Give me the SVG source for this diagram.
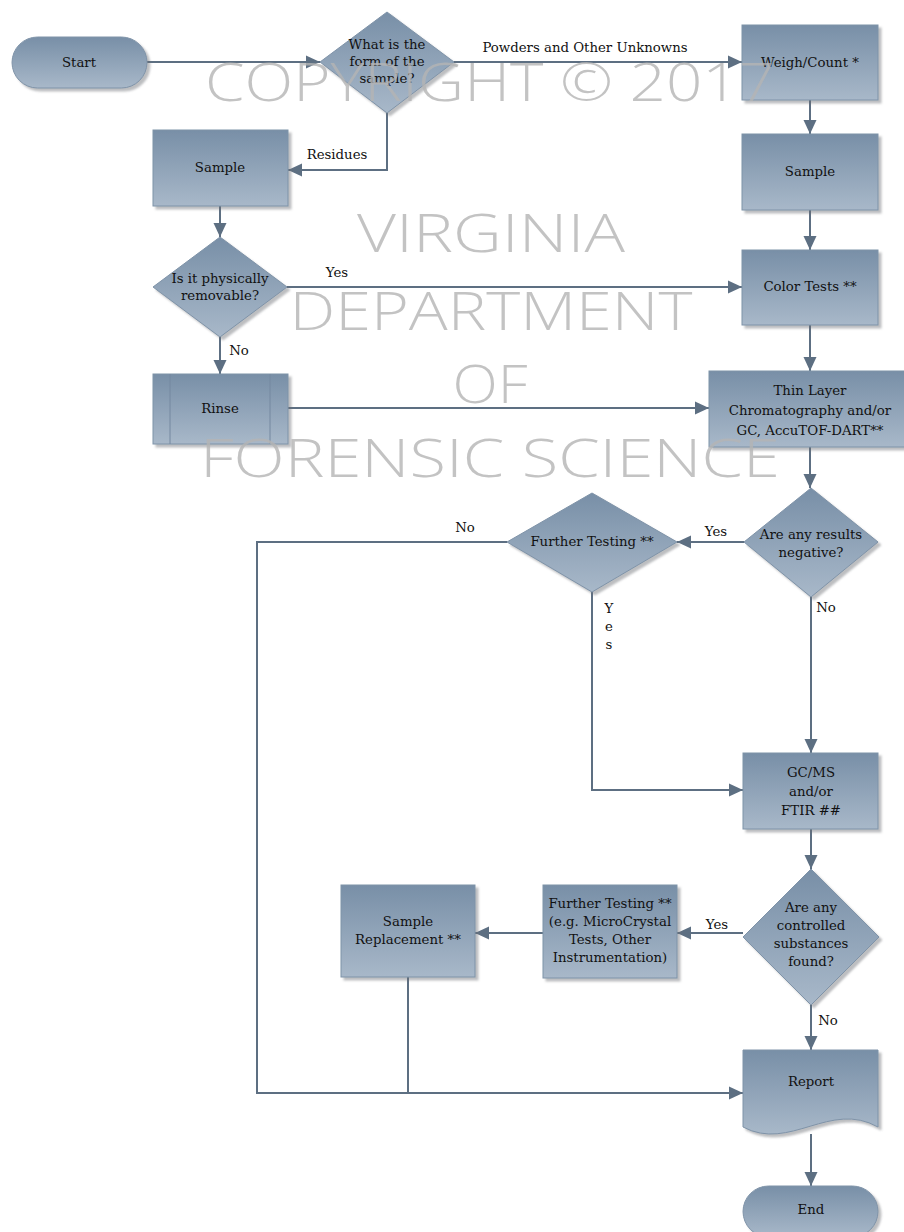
<svg xmlns="http://www.w3.org/2000/svg" width="904" height="1232" viewBox="0 0 904 1232">
<defs>
<linearGradient id="g" x1="0" y1="0" x2="0" y2="1">
<stop offset="0" stop-color="#788fa7"/>
<stop offset="1" stop-color="#a8b8c9"/>
</linearGradient>
<filter id="sh" x="-10%" y="-10%" width="130%" height="130%">
<feDropShadow dx="3" dy="3" stdDeviation="1.2" flood-color="#6a6e74" flood-opacity="0.45"/>
</filter>
<marker id="ah" markerUnits="userSpaceOnUse" markerWidth="15" markerHeight="15" viewBox="0 0 15 15" refX="14" refY="7.5" orient="auto">
<path d="M0,1 L14,7.5 L0,14 Z" fill="#5d6f82"/>
</marker>
<style>
.n{fill:url(#g);stroke:#7f93a8;stroke-width:1;filter:url(#sh)}
.c{fill:none;stroke:#5d6f82;stroke-width:2}
.a{marker-end:url(#ah)}
.t{font-family:"DejaVu Serif","Liberation Serif",serif;font-size:13.3px;fill:#111;text-anchor:middle}
.l{font-family:"DejaVu Serif","Liberation Serif",serif;font-size:13.3px;fill:#111;text-anchor:middle}
.w{font-family:"Open Sans","Liberation Sans",sans-serif;font-weight:300;font-size:54px;fill:#b4b4b4;fill-opacity:0.8;text-anchor:middle}
</style>
</defs>
<g id="connectors">
<path class="c a" d="M147,62 H320"/>
<path class="c a" d="M454,62 H742"/>
<text class="l" x="585" y="52">Powders and Other Unknowns</text>
<path class="c a" d="M387,113 V170 H288"/>
<text class="l" x="337" y="159">Residues</text>
<path class="c a" d="M810,100 V134"/>
<path class="c a" d="M220,206 V237"/>
<path class="c a" d="M287,287 H742"/>
<text class="l" x="337" y="277">Yes</text>
<path class="c a" d="M220,337 V374"/>
<text class="l" x="239" y="355">No</text>
<path class="c a" d="M810,210 V250"/>
<path class="c a" d="M810,325 V371"/>
<path class="c a" d="M288,408 H709"/>
<path class="c a" d="M810,447 V488"/>
<path class="c a" d="M744,542 H677"/>
<text class="l" x="716" y="536">Yes</text>
<path class="c a" d="M507,542 H257 V1093 H743"/>
<text class="l" x="465" y="532">No</text>
<path class="c a" d="M592,592 V790 H743"/>
<text class="l" x="609" y="613">Y</text>
<text class="l" x="609" y="631">e</text>
<text class="l" x="609" y="649">s</text>
<path class="c a" d="M811,597 V753"/>
<text class="l" x="826" y="612">No</text>
<path class="c a" d="M811,829 V869"/>
<path class="c a" d="M743,933 H677"/>
<text class="l" x="717" y="929">Yes</text>
<path class="c a" d="M543,933 H475"/>
<path class="c" d="M408,977 V1093"/>
<path class="c a" d="M811,1005 V1050"/>
<text class="l" x="828" y="1025">No</text>
<path class="c a" d="M811,1134 V1186"/>
</g>
<g id="start"><rect class="n" x="12" y="37" width="135" height="51" rx="25.5"/><text class="t" x="79" y="67">Start</text></g>
<g id="form"><polygon class="n" points="387,12 454,62 387,113 320,62"/><text class="t" x="387" y="49">What is the</text><text class="t" x="387" y="66">form of the</text><text class="t" x="387" y="83">sample?</text></g>
<g id="weigh"><rect class="n" x="742" y="25" width="136" height="75"/><text class="t" x="810" y="67">Weigh/Count *</text></g>
<g id="sampleR"><rect class="n" x="742" y="134" width="136" height="76"/><text class="t" x="810" y="176">Sample</text></g>
<g id="sampleL"><rect class="n" x="153" y="130" width="135" height="76"/><text class="t" x="220" y="172">Sample</text></g>
<g id="removable"><polygon class="n" points="220,237 287,287 220,337 153,287"/><text class="t" x="220" y="283">Is it physically</text><text class="t" x="220" y="300">removable?</text></g>
<g id="rinse"><rect class="n" x="153" y="374" width="135" height="70"/><path d="M170,374 V444 M270,374 V444" stroke="#7488a0" stroke-width="1" fill="none"/><text class="t" x="220" y="413">Rinse</text></g>
<g id="color"><rect class="n" x="742" y="250" width="136" height="75"/><text class="t" x="810" y="291">Color Tests **</text></g>
<g id="tlc"><rect class="n" x="709" y="371" width="202" height="76"/><text class="t" x="810" y="395">Thin Layer</text><text class="t" x="810" y="415">Chromatography and/or</text><text class="t" x="810" y="435">GC, AccuTOF-DART**</text></g>
<g id="negative"><polygon class="n" points="811,488 878,542 811,597 744,542"/><text class="t" x="811" y="539">Are any results</text><text class="t" x="811" y="557">negative?</text></g>
<g id="further1"><polygon class="n" points="592,493 677,542 592,592 507,542"/><text class="t" x="592" y="546">Further Testing **</text></g>
<g id="gcms"><rect class="n" x="743" y="753" width="135" height="76"/><text class="t" x="811" y="777">GC/MS</text><text class="t" x="811" y="796">and/or</text><text class="t" x="811" y="815">FTIR ##</text></g>
<g id="controlled"><polygon class="n" points="811,869 879,937 811,1005 743,937"/><text class="t" x="811" y="912">Are any</text><text class="t" x="811" y="930">controlled</text><text class="t" x="811" y="948">substances</text><text class="t" x="811" y="966">found?</text></g>
<g id="further2"><rect class="n" x="543" y="885" width="134" height="93"/><text class="t" x="610" y="908">Further Testing **</text><text class="t" x="610" y="926">(e.g. MicroCrystal</text><text class="t" x="610" y="944">Tests, Other</text><text class="t" x="610" y="962">Instrumentation)</text></g>
<g id="replacement"><rect class="n" x="341" y="885" width="134" height="92"/><text class="t" x="408" y="926">Sample</text><text class="t" x="408" y="944">Replacement **</text></g>
<g id="report"><path class="n" d="M743,1050 H878 V1127 C830,1100 790,1152 743,1127 Z"/><text class="t" x="811" y="1086">Report</text></g>
<g id="end"><rect class="n" x="743" y="1186" width="135" height="51" rx="25.5"/><text class="t" x="811" y="1214">End</text></g>
<g id="watermark">
<text class="w" x="490" y="101" textLength="570" lengthAdjust="spacingAndGlyphs">COPYRIGHT © 2017</text>
<text class="w" x="491" y="252" textLength="268" lengthAdjust="spacingAndGlyphs">VIRGINIA</text>
<text class="w" x="491" y="330" textLength="403" lengthAdjust="spacingAndGlyphs">DEPARTMENT</text>
<text class="w" x="490" y="403" textLength="75" lengthAdjust="spacingAndGlyphs">OF</text>
<text class="w" x="490" y="477" textLength="580" lengthAdjust="spacingAndGlyphs">FORENSIC SCIENCE</text>
</g>
</svg>
